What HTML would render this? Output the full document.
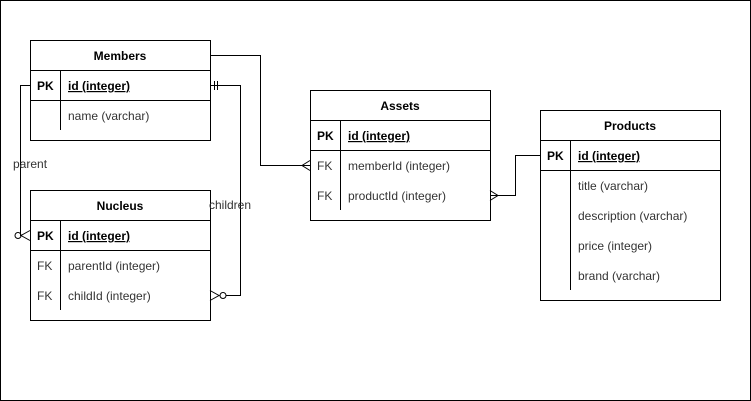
<!DOCTYPE html>
<html><head><style>
body{margin:0;background:#fff;}
svg{display:block;font-family:"Liberation Sans",Arial,sans-serif;font-size:12px;}
</style></head><body>
<svg width="751" height="401" viewBox="0 0 751 401" xmlns="http://www.w3.org/2000/svg">
<rect x="0.5" y="0.5" width="750" height="400" fill="#fff" stroke="#000"/>
<g fill="none" stroke="#000" stroke-width="1">
<!-- Members -->
<rect x="30.5" y="40.5" width="180" height="100"/>
<line x1="30" y1="70.5" x2="210" y2="70.5"/>
<line x1="30" y1="100.5" x2="210" y2="100.5"/>
<line x1="60.5" y1="70" x2="60.5" y2="130"/>
<!-- Nucleus -->
<rect x="30.5" y="190.5" width="180" height="130"/>
<line x1="30" y1="220.5" x2="210" y2="220.5"/>
<line x1="30" y1="250.5" x2="210" y2="250.5"/>
<line x1="60.5" y1="220" x2="60.5" y2="310"/>
<!-- Assets -->
<rect x="310.5" y="90.5" width="180" height="130"/>
<line x1="310" y1="120.5" x2="490" y2="120.5"/>
<line x1="310" y1="150.5" x2="490" y2="150.5"/>
<line x1="340.5" y1="120" x2="340.5" y2="210"/>
<!-- Products -->
<rect x="540.5" y="110.5" width="180" height="190"/>
<line x1="540" y1="140.5" x2="720" y2="140.5"/>
<line x1="540" y1="170.5" x2="720" y2="170.5"/>
<line x1="570.5" y1="140" x2="570.5" y2="290"/>
<!-- connectors -->
<polyline points="210,55.5 260.5,55.5 260.5,165.5 310,165.5"/>
<path d="M310,160.5 L302,165.5 L310,170.5"/>
<polyline points="210,85.5 240.5,85.5 240.5,295.5 226,295.5"/>
<line x1="214.5" y1="81" x2="214.5" y2="90"/>
<line x1="217.5" y1="81" x2="217.5" y2="90"/>
<circle cx="223" cy="295.5" r="3"/>
<path d="M210,290.5 L219,295.5 L210,300.5"/>
<polyline points="30,85.5 20.5,85.5 20.5,235.5 22,235.5"/>
<circle cx="18" cy="235.5" r="3"/>
<path d="M30,230.5 L21,235.5 L30,240.5"/>
<polyline points="490,195.5 515.5,195.5 515.5,155.5 540,155.5"/>
<path d="M490,190.5 L498,195.5 L490,200.5"/>
</g>
<g fill="#000" text-anchor="middle" font-weight="bold">
<text x="120" y="60">Members</text>
<text x="120" y="210">Nucleus</text>
<text x="400" y="110">Assets</text>
<text x="630" y="130">Products</text>
</g>
<g fill="#000" font-weight="bold">
<text x="37" y="90">PK</text>
<text x="37" y="240">PK</text>
<text x="317" y="140">PK</text>
<text x="547" y="160">PK</text>
<text x="68" y="90" text-decoration="underline">id (integer)</text>
<text x="68" y="240" text-decoration="underline">id (integer)</text>
<text x="348" y="140" text-decoration="underline">id (integer)</text>
<text x="578" y="160" text-decoration="underline">id (integer)</text>
</g>
<g fill="#333">
<text x="68" y="120">name (varchar)</text>
<text x="37" y="270">FK</text><text x="68" y="270">parentId (integer)</text>
<text x="37" y="300">FK</text><text x="68" y="300">childId (integer)</text>
<text x="317" y="170">FK</text><text x="348" y="170">memberId (integer)</text>
<text x="317" y="200">FK</text><text x="348" y="200">productId (integer)</text>
<text x="578" y="190">title (varchar)</text>
<text x="578" y="220">description (varchar)</text>
<text x="578" y="250">price (integer)</text>
<text x="578" y="280">brand (varchar)</text>
<text x="13" y="168">parent</text>
<text x="209" y="209">children</text>
</g>
</svg>
</body></html>
